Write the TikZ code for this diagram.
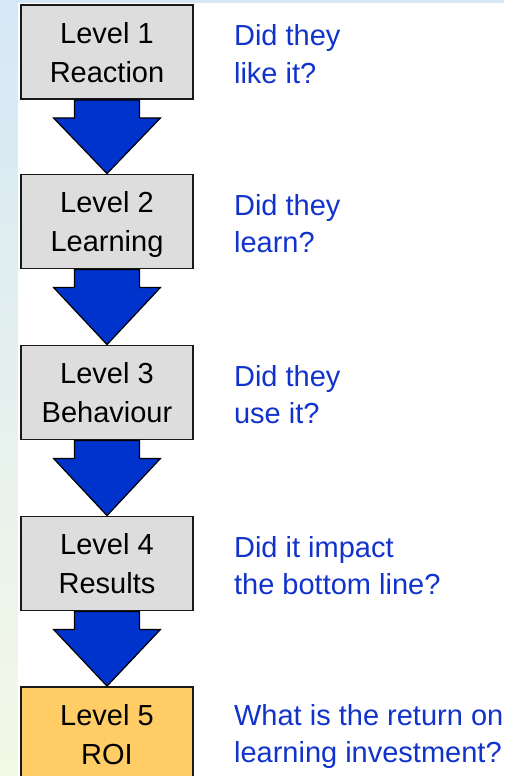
\documentclass[tikz,border=0pt]{standalone}
\usepackage{fontspec}
\setmainfont{Liberation Sans}
\usetikzlibrary{calc,positioning}
\definecolor{boxgray}{HTML}{DDDDDD}
\definecolor{roigold}{HTML}{FFCC66}
\definecolor{arrowblue}{HTML}{0033CC}
\definecolor{asktext}{HTML}{1133CC}
\definecolor{stripblue}{HTML}{D6E8F6}
\definecolor{stripmid}{HTML}{E4F0EE}
\definecolor{stripgreen}{HTML}{F4F8E6}
\begin{document}
\begin{tikzpicture}[x=1pt,y=-1pt,
  levelbox/.style={draw=black!90, line width=1.8pt, fill=boxgray,
    minimum width=172pt, minimum height=94pt, inner sep=0pt, align=center,
    font=\fontsize{29}{39}\selectfont, text height=68pt, text depth=8pt},
  question/.style={text=asktext, inner sep=0pt, align=left,
    font=\fontsize{29}{37}\selectfont, text height=70pt, text depth=8pt},
  bigarrow/.style={fill=arrowblue, draw=black, line width=1.2pt, line join=miter}]

% page frame and clipping
\useasboundingbox (0,0) rectangle (504,776);
\clip (0,0) rectangle (504,776);
\fill[white] (0,0) rectangle (504,776);
\fill[stripblue] (0,0) rectangle (504,3);
\shade[top color=stripblue, middle color=stripmid, bottom color=stripgreen]
  (0,0) rectangle (17.5,776);

% level boxes
\node[levelbox] (b1) at (107,52)    {Level 1\\Reaction};
\node[levelbox] (b2) at (107,221.5) {Level 2\\Learning};
\node[levelbox] (b3) at (107,392.5) {Level 3\\Behaviour};
\node[levelbox] (b4) at (107,563.5) {Level 4\\Results};
\node[levelbox, fill=roigold] (b5) at (107,734) {Level 5\\ROI};

% questions beside each level
\node[question, right=40pt of b1] (q1) {Did they\\like it?};
\node[question, right=40pt of b2] (q2) {Did they\\learn?};
\node[question, right=40pt of b3] (q3) {Did they\\use it?};
\node[question, right=40pt of b4] (q4) {Did it impact\\the bottom line?};
\node[question, right=40pt of b5, yshift=3pt] (q5) {What is the return on\\learning investment?};

% block arrows between levels
\foreach \a/\b in {b1/b2, b2/b3, b3/b4, b4/b5} {
  \draw[bigarrow]
    ($(\a.south)+(-32.5,0)$) -- ($(\a.south)+(-32.5,18)$)
    -- ($(\a.south)+(-53.5,18)$) -- (\b.north)
    -- ($(\a.south)+(53.5,18)$) -- ($(\a.south)+(32.5,18)$)
    -- ($(\a.south)+(32.5,0)$) -- cycle;
}
\end{tikzpicture}
\end{document}
